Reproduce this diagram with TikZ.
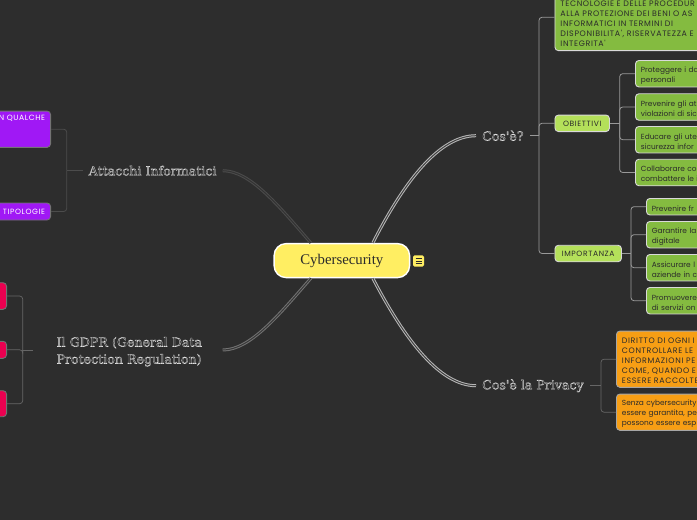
\documentclass[tikz,border=0pt]{standalone}
\usepackage{fontspec}
\usetikzlibrary{calc}
\setmainfont{Liberation Serif}
\newfontfamily\boxfont{Poppins}
\newfontfamily\capsfont[LetterSpace=8]{Poppins}
\newfontfamily\branchfont{DejaVu Serif}
\newfontfamily\centerfont{Liberation Serif}
\definecolor{bgdark}{HTML}{2D2D2D}
\definecolor{leaf}{HTML}{84BB40}
\definecolor{midgreen}{HTML}{B4E05A}
\definecolor{orangeb}{HTML}{F79E14}
\definecolor{purpleb}{HTML}{A018F5}
\definecolor{redb}{HTML}{EB0050}
\definecolor{yellowb}{HTML}{FFEE62}
\definecolor{inkdark}{HTML}{2B2B2B}
\definecolor{branchtext}{HTML}{E0E0E0}
\newcommand\outlined[1]{\special{pdf:code q 1 Tr 0.3 w}#1\special{pdf:code Q}}
\tikzset{
  boxbase/.style={draw=#1,line width=0.9pt,rounded corners=3.5pt,inner ysep=0pt,inner xsep=5.5pt,align=left},
  boxbase/.default=white!85!black,
  downshift/.style={execute at begin node={\rule{0pt}{#1}}},
  leafbox/.style={boxbase,downshift=9pt,fill=leaf,anchor=west,text=inkdark,text width=300pt,font=\fontsize{7.4}{10}\selectfont\boxfont},
  capsleaf/.style={boxbase,downshift=9pt,fill=leaf,anchor=west,text=inkdark,text width=300pt,font=\fontsize{7.9}{10}\selectfont\capsfont},
  midbox/.style={draw=white!85!black,line width=0.9pt,rounded corners=3.5pt,inner sep=0pt,fill=midgreen,anchor=west,text=inkdark,text height=6pt,text depth=0pt,minimum height=16.5pt,font=\fontsize{7.6}{10}\selectfont\capsfont},
  orangecaps/.style={boxbase=white!65!black,downshift=9pt,fill=orangeb,anchor=west,text=inkdark,text width=300pt,font=\fontsize{7.9}{10}\selectfont\capsfont},
  orangebox/.style={boxbase=white!65!black,downshift=9pt,fill=orangeb,anchor=west,text=inkdark,text width=300pt,font=\fontsize{7.4}{10}\selectfont\boxfont},
  purplebox/.style={boxbase=white!45!black,fill=purpleb,anchor=east,text=white,align=right,text width=200pt,font=\fontsize{7.6}{10}\selectfont\capsfont},
  redbox/.style={boxbase=white!45!black,fill=redb,anchor=east,minimum width=60pt},
  branch/.style={text=branchtext,inner xsep=6pt,inner ysep=2pt,font=\fontsize{12.6}{17}\selectfont\branchfont},
  rootbox/.style={draw=white,fill=yellowb,line width=1.4pt,rounded corners=12pt,minimum width=135.5pt,minimum height=34pt,inner sep=0pt,text=inkdark,text height=10pt,text depth=3pt,font=\fontsize{14.8}{16}\selectfont\centerfont},
  iconbox/.style={fill=yellowb,rounded corners=1.5pt,minimum width=11pt,minimum height=11.4pt,inner sep=0pt},
  linkR/.style={draw=white!60!black,line width=0.8pt,rounded corners=3pt},
  linkL/.style={draw=white!30!black,line width=0.8pt,rounded corners=3pt},
  linkG/.style={draw=white!40!black,line width=0.7pt,rounded corners=3pt},
  mainR/.style={draw=white!72!black,double=white!25!black,line width=1pt,double distance=1pt},
  mainA/.style={draw=white!30!black,double=white!20!black,line width=1pt,double distance=1pt},
  mainG/.style={draw=white!45!black,double=white!22!black,line width=1pt,double distance=1pt},
}
\begin{document}
\begin{tikzpicture}[x=1pt,y=-1pt]
\useasboundingbox (0,0) rectangle (697,520);
\clip (0,0) rectangle (697,520);
\fill[bgdark] (0,0) rectangle (697,520);

% root
\node[rootbox] (root) at (341.85,260.6) {Cybersecurity};
\node[iconbox] (icon) at (418.5,261) {};
\foreach \dy in {-2.4,0,2.4}
  \draw[inkdark,line width=0.7pt] ($(icon.center)+(-3,\dy)$) -- ($(icon.center)+(3,\dy)$);

% branch labels
\node[branch,anchor=west] (cose) at (476,135.7) {\outlined{Cos'è?}};
\node[branch,anchor=west] (priv) at (476,385.7) {\outlined{Cos'è la Privacy}};
\node[branch,anchor=east] (att) at (222.7,170.7) {\outlined{Attacchi Informatici}};
\node[branch,downshift=13pt,anchor=east,text width=160pt,align=left] (gdpr) at (222.7,350) {\outlined{Il GDPR (General Data}\\\outlined{Protection Regulation)}};

% main curves
\draw[mainR] ($(root.north)+(31,0)$) .. controls (405,180) and (440,135.7) .. (cose.west);
\draw[mainR] ($(root.south)+(31,0)$) .. controls (405,340) and (440,385.7) .. (priv.west);
\draw[mainA] ($(root.north)+(-31,0)$) .. controls (278,205) and (250,170.7) .. (att.east);
\draw[mainG] ($(root.south)+(-31,0)$) .. controls (278,316) and (250,350) .. (gdpr.east);

% right side: Cos'e
\node[capsleaf,minimum height=66.7pt] (defn) at (554.5,17.3) {\strut\\TECNOLOGIE E DELLE PROCEDUR\\ALLA PROTEZIONE DEI BENI O AS\\INFORMATICI IN TERMINI DI\\DISPONIBILITA', RISERVATEZZA E\\INTEGRITA'};
\node[midbox,minimum width=54.5pt] (obi) at (554.5,123.3) {OBIETTIVI};
\node[midbox,minimum width=66.5pt] (imp) at (554.5,253.5) {IMPORTANZA};
\coordinate (jc) at (539,135.7);
\draw[linkR] (cose.east) -- (jc);
\draw[linkR] (jc) |- (defn.west);
\draw[linkR] (jc) |- (obi.west);
\draw[linkR] (jc) |- (imp.west);

% objectives
\node[leafbox,minimum height=26.5pt] (o1) at (635,73.7) {Proteggere i da\\personali};
\node[leafbox,minimum height=26.5pt] (o2) at (635,107) {Prevenire gli at\\violazioni di sic};
\node[leafbox,minimum height=26.5pt] (o3) at (635,139.7) {Educare gli ute\\sicurezza infor};
\node[leafbox,minimum height=26.5pt] (o4) at (635,172.5) {Collaborare co\\combattere le i};
\coordinate (jo) at (619.7,123.3);
\draw[linkR] (obi.east) -- (jo);
\foreach \n in {o1,o2,o3,o4} \draw[linkR] (jo) |- (\n.west);

% importance
\node[leafbox,minimum height=16.5pt] (i1) at (646,206.7) {Prevenire fr};
\node[leafbox,minimum height=26.5pt] (i2) at (646,234.7) {Garantire la\\digitale};
\node[leafbox,minimum height=26.5pt] (i3) at (646,267.7) {Assicurare l\\aziende in c};
\node[leafbox,minimum height=26.5pt] (i4) at (646,300.7) {Promuovere\\di servizi on};
\coordinate (ji) at (631,253.5);
\draw[linkR] (imp.east) -- (ji);
\foreach \n in {i1,i2,i3,i4} \draw[linkR] (ji) |- (\n.west);

% privacy
\node[orangecaps,minimum height=56.3pt] (p1) at (616,359.2) {DIRITTO DI OGNI I\\CONTROLLARE LE\\INFORMAZIONI PE\\COME, QUANDO E I\\ESSERE RACCOLTE};
\node[orangebox,minimum height=36.3pt] (p2) at (616,412.2) {Senza cybersecurity\\essere garantita, pe\\possono essere esp};
\coordinate (jp) at (601,385.7);
\draw[linkG] (priv.east) -- (jp);
\draw[linkG] (jp) |- (p1.west);
\draw[linkG] (jp) |- (p2.west);

% attacks
\node[purplebox,minimum height=36.3pt] (a1) at (51,129.2) {N QUALCHE\\\strut\\\strut};
\node[purplebox,minimum height=17pt] (a2) at (51,211.5) {TIPOLOGIE};
\coordinate (ja) at (66.7,170.7);
\draw[linkL] (att.west) -- (ja);
\draw[linkL] (ja) |- (a1.east);
\draw[linkL] (ja) |- (a2.east);

% GDPR
\node[redbox,minimum height=26.6pt] (r1) at (7,296) {};
\node[redbox,minimum height=17pt] (r2) at (7,349.8) {};
\node[redbox,minimum height=26pt] (r3) at (7,403.7) {};
\coordinate (jg) at (22.7,350);
\draw[linkG,shorten <=17.7pt] (gdpr.west) -- (jg);
\draw[linkG] (jg) |- (r1.east);
\draw[linkG] (jg) |- (r2.east);
\draw[linkG] (jg) |- (r3.east);
\end{tikzpicture}
\end{document}
